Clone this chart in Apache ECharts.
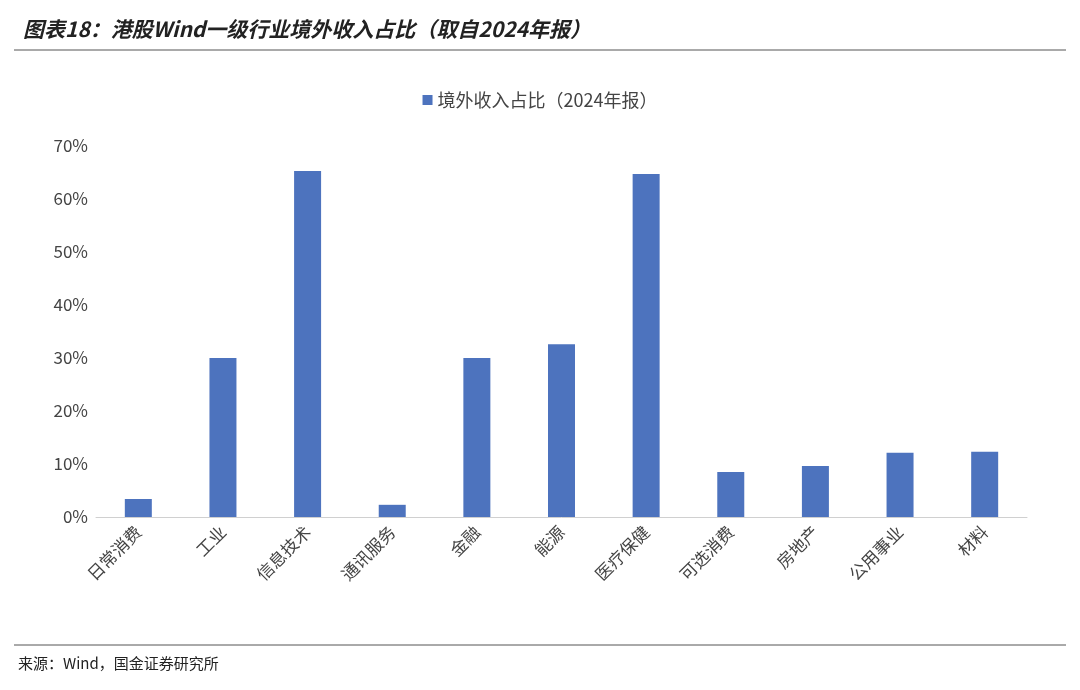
<!DOCTYPE html>
<html>
<head>
<meta charset="utf-8">
<script src="https://cdn.jsdelivr.net/npm/echarts@6/dist/echarts.min.js"></script>
<style>
  body{margin:0;background:#fff;}
  #chart{width:1080px;height:690px;}
</style>
</head>
<body>
<div id="chart"></div>
<script>
var categories = ['日常消费','工业','信息技术','通讯服务','金融','能源','医疗保健','可选消费','房地产','公用事业','材料'];
var shareValues = [3.4, 30.0, 65.3, 2.3, 30.0, 32.6, 64.7, 8.5, 9.6, 12.1, 12.3];
var seriesName = '境外收入占比（2024年报）';

var chart = echarts.init(document.getElementById('chart'));
var font = '"Noto Sans CJK SC", sans-serif';
chart.setOption({
    animation: false,
    title: {
        text: '图表18：港股Wind一级行业境外收入占比（取自2024年报）',
        left: 18, top: 14,
        textStyle: {fontFamily: font, fontSize: 21, fontWeight: 'bold', fontStyle: 'italic', color: '#222'}
    },
    graphic: [
        {type: 'line', shape: {x1: 14, y1: 50, x2: 1066, y2: 50}, style: {stroke: '#555', lineWidth: 1}},
        {type: 'line', shape: {x1: 14, y1: 645, x2: 1066, y2: 645}, style: {stroke: '#555', lineWidth: 1}},
        {type: 'text', left: 18, top: 656, style: {text: '来源：Wind，国金证券研究所', fontFamily: font, fontSize: 15, fill: '#222'}}
    ],
    legend: {
        top: 86, left: 'center',
        itemWidth: 10, itemHeight: 10, icon: 'rect',
        textStyle: {fontFamily: font, fontSize: 18, color: '#444'},
        data: [seriesName]
    },
    grid: {left: 96, right: 53, top: 146, bottom: 173},
    xAxis: {
        type: 'category',
        data: categories,
        axisLine: {lineStyle: {color: '#d0d0d0'}},
        axisTick: {show: false},
        axisLabel: {rotate: 45, fontFamily: font, fontSize: 17, color: '#444', margin: 12}
    },
    yAxis: {
        type: 'value',
        min: 0, max: 70, interval: 10,
        splitLine: {show: false},
        axisLine: {show: false},
        axisTick: {show: false},
        axisLabel: {formatter: '{value}%', fontFamily: font, fontSize: 17, color: '#444'}
    },
    series: [{
        name: seriesName,
        type: 'bar',
        data: shareValues,
        barWidth: 27,
        itemStyle: {color: '#4d73be'}
    }]
});
</script>
</body>
</html>
